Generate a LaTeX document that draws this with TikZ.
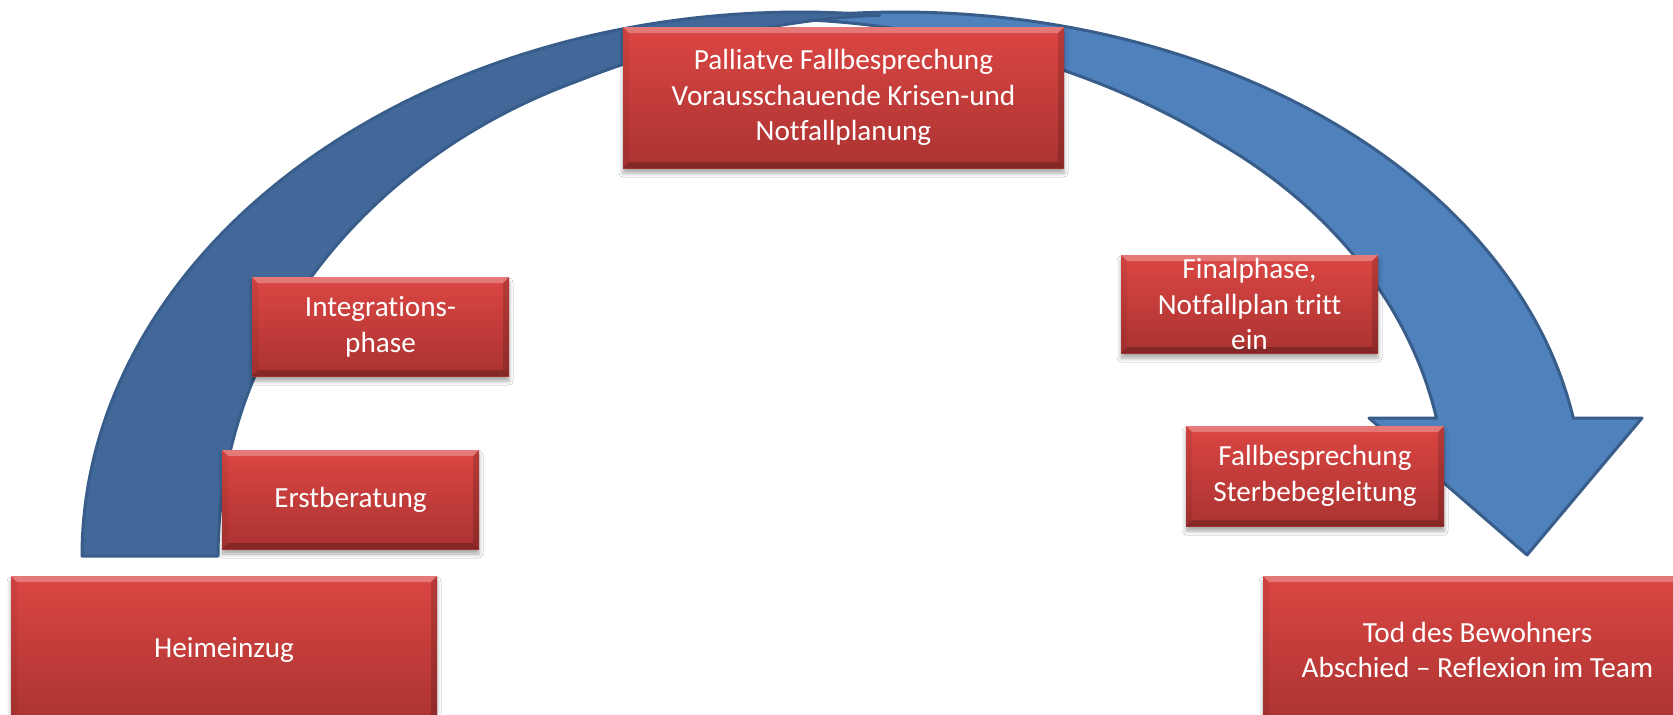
\documentclass[tikz,border=0pt]{standalone}
\usepackage{fontspec}
\setmainfont[Ligatures={CommonOff,ContextualOff,RareOff},Contextuals=AlternateOff]{Carlito}
\usetikzlibrary{shadows.blur}
\definecolor{bandDark}{RGB}{65,104,153}
\definecolor{bandLight}{RGB}{79,129,189}
\definecolor{bandEdge}{RGB}{56,93,138}
\definecolor{boxTop}{RGB}{219,70,67}
\definecolor{boxBot}{RGB}{170,51,49}
\tikzset{
  band/.style={draw=bandEdge, line width=1.5pt, line join=round},
  boxfont/.style={font=\fontsize{14.6}{17.8}\selectfont},
  redbox/.style={boxfont, top color=boxTop, bottom color=boxBot, text=white,
    align=center, inner sep=0pt,
    blur shadow={shadow xshift=0pt, shadow yshift=-2.5pt, shadow blur radius=2pt, shadow opacity=35},
    path picture={
      \fill[white, opacity=0.28] (path picture bounding box.north west) -- (path picture bounding box.north east)
        -- ([xshift=-3pt,yshift=-3pt]path picture bounding box.north east) -- ([xshift=3pt,yshift=-3pt]path picture bounding box.north west) -- cycle;
      \fill[black, opacity=0.22] (path picture bounding box.south west) -- (path picture bounding box.south east)
        -- ([xshift=-3pt,yshift=3pt]path picture bounding box.south east) -- ([xshift=3pt,yshift=3pt]path picture bounding box.south west) -- cycle;
      \fill[black, opacity=0.06] (path picture bounding box.south west) -- (path picture bounding box.north west)
        -- ([xshift=3pt,yshift=-3pt]path picture bounding box.north west) -- ([xshift=3pt,yshift=3pt]path picture bounding box.south west) -- cycle;
      \fill[black, opacity=0.16] (path picture bounding box.south east) -- (path picture bounding box.north east)
        -- ([xshift=-3pt,yshift=-3pt]path picture bounding box.north east) -- ([xshift=-3pt,yshift=3pt]path picture bounding box.south east) -- cycle;
    }},
}
\begin{document}
\begin{tikzpicture}[x=0.5pt, y=-0.5pt]
\useasboundingbox (0,0) rectangle (1673,714);
\clip (0,0) rectangle (1673,714);
\fill[white] (0,0) rectangle (1673,714);

% front (light) part of the curved arrow, with the arrow head
\path[band, fill=bandLight]
  plot[domain=100:9.67, samples=90, variable=\t] ({900+683*cos(\t)}, {500-488*sin(\t)})
  -- (1642,418) -- (1527,555) -- (1369,418) -- (1436.5,418)
  -- plot[domain=10.7:55, samples=50, variable=\t] ({900+546*cos(\t)}, {500-440*sin(\t)})
  .. controls (1100,70) and (930,20) .. (781.4,19.4)
  -- cycle;

% back (dark) part of the curved arrow
\path[band, fill=bandDark]
  plot[domain=180:83.6, samples=100, variable=\t] ({800+718*cos(\t)}, {556-544*sin(\t)})
  .. controls (800,17) and (680,40) .. (580.1,80.1)
  -- plot[domain=112.2:180, samples=60, variable=\t] ({800+582*cos(\t)}, {556-514*sin(\t)})
  -- cycle;

\node[redbox, minimum width=213pt, minimum height=74pt] (heim) at (224,650) {Heimeinzug};
\node[redbox, minimum width=128.5pt, minimum height=49.5pt] (erst) at (350.5,499.5) {Erstberatung};
\node[redbox, minimum width=128.5pt, minimum height=49.5pt] (integ) at (380.5,326.5) {Integrations-\\phase};
\node[redbox, minimum width=220.5pt, minimum height=70.5pt] (pall) at (843.5,97.5) {Palliatve Fallbesprechung\\Vorausschauende Krisen-und\\Notfallplanung};
\node[redbox, minimum width=128.5pt, minimum height=49pt] (final) at (1249.5,304) {};
\node[boxfont, text=white, align=center, inner sep=0pt] (finalt) at (final.center) {Finalphase,\\Notfallplan tritt\\ein};
\node[redbox, minimum width=129pt, minimum height=50pt] (fall) at (1315,476) {Fallbesprechung\\Sterbebegleitung};
\node[redbox, minimum width=214.5pt, minimum height=74pt] (tod) at (1477.5,650) {Tod des Bewohners\\Abschied – Reflexion im Team};
\end{tikzpicture}
\end{document}
